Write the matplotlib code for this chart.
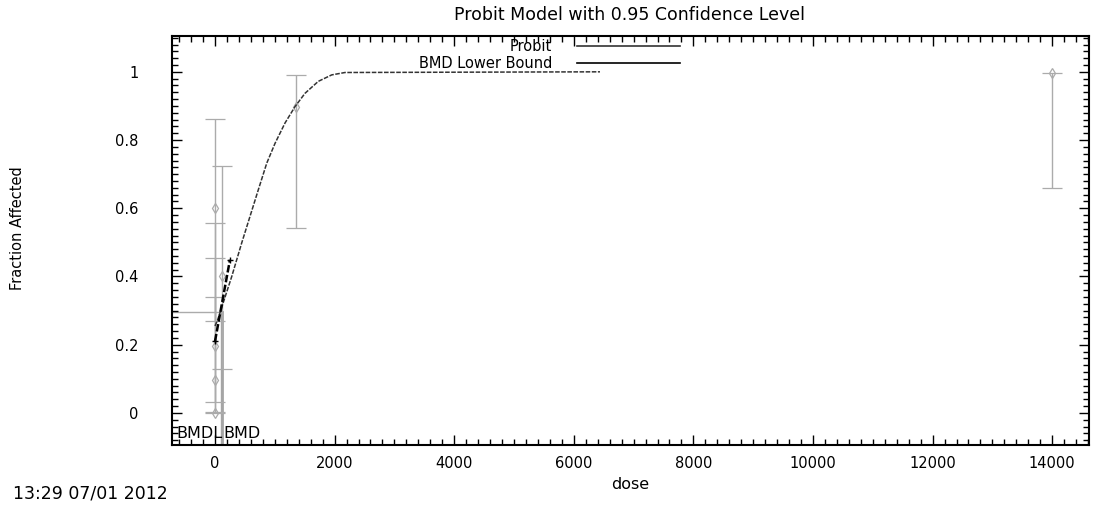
import matplotlib
matplotlib.use('Agg')
import matplotlib.pyplot as plt
from matplotlib.ticker import MultipleLocator
from matplotlib.lines import Line2D

# observed dose groups (fraction affected with 95% limits)
dose = [0, 0, 0, 0, 112, 1360, 14000]
frac = [0.6, 0.195, 0.097, 0.0, 0.4, 0.897, 0.997]
lower = [0.27, 0.033, 0.003, 0.0, 0.13, 0.543, 0.66]
upper = [0.862, 0.558, 0.455, 0.34, 0.725, 0.99, 0.997]

# fitted probit curve
fit_dose = [0, 45, 280, 446, 585, 724, 865, 1003, 1171, 1338, 1505, 1727, 1952, 2174, 6438]
fit_frac = [0.255, 0.273, 0.40, 0.498, 0.576, 0.654, 0.732, 0.79, 0.85, 0.898, 0.937, 0.972, 0.991, 0.998, 1.0]

# BMD lower bound line
lb_dose = [0, 250]
lb_frac = [0.21, 0.449]

bmr = 0.296
bmdl = 100
bmd = 112

fig = plt.figure(figsize=(10.95, 5.08), dpi=100)
ax = fig.add_axes([172/1095, 1-445/508, (1089-172)/1095, (445-36)/508])
ax.set_xlim(-719, 14615)
ax.set_ylim(-0.094, 1.105)

grey = '#ababab'
yerr = [[f - l for f, l in zip(frac, lower)], [u - f for f, u in zip(frac, upper)]]
ax.errorbar(dose, frac, yerr=yerr, fmt='d', color=grey, ecolor=grey, mfc='none',
            ms=5, mew=0.9, elinewidth=1, capsize=7.5, capthick=1, zorder=2)

# BMR / BMD markers
ax.plot([-719, bmd], [bmr, bmr], color=grey, lw=1, zorder=1)
ax.plot([bmd, bmd], [-0.094, bmr], color='#a5a5a5', lw=2, zorder=1)
ax.plot([bmdl, bmdl], [-0.094, bmr], color='#a5a5a5', lw=1, zorder=1)
ax.text(bmdl + 25, -0.06, 'BMDL', ha='right', va='center', fontsize=11.5)
ax.text(bmd + 25, -0.06, 'BMD', ha='left', va='center', fontsize=11.5)

ax.plot(fit_dose, fit_frac, color='#333333', lw=1.1, ls=(0, (3, 1)), zorder=3)
ax.plot(lb_dose, lb_frac, color='black', lw=1.8, ls=(0, (3, 1)), marker='+', ms=5, zorder=4)

ax.xaxis.set_major_locator(MultipleLocator(2000))
ax.xaxis.set_minor_locator(MultipleLocator(200))
ax.yaxis.set_major_locator(MultipleLocator(0.2))
ax.yaxis.set_minor_locator(MultipleLocator(0.02))
ax.set_yticks([0, 0.2, 0.4, 0.6, 0.8, 1])
ax.set_yticklabels(['0', '0.2', '0.4', '0.6', '0.8', '1'])
ax.tick_params(which='both', direction='in', top=True, right=True, width=1)
ax.tick_params(which='major', length=7, labelsize=10.5)
ax.tick_params(which='minor', length=4)
ax.tick_params(axis='y', pad=24)
ax.tick_params(axis='x', pad=8)
for s in ax.spines.values():
    s.set_linewidth(1.5)

ax.set_xlabel('dose', fontsize=11.5, labelpad=4)
fig.text(18/1095, 1-228/508, 'Fraction Affected', rotation=90, ha='center', va='center', fontsize=10.5)
fig.text(630/1095, 1-15/508, 'Probit Model with 0.95 Confidence Level', ha='center', va='center', fontsize=12.5)
fig.text(13/1095, 1-494/508, '13:29 07/01 2012', ha='left', va='center', fontsize=12.5)

# legend drawn by hand like the original
for label, yy, c in [('Probit', 46, '#333333'), ('BMD Lower Bound', 63, 'black')]:
    fig.text(552/1095, 1-yy/508, label, ha='right', va='center', fontsize=10.5)
    fig.add_artist(Line2D([577/1095, 680/1095], [1-yy/508, 1-yy/508], color=c, lw=1.2))

fig.savefig('out.png', dpi=100)
